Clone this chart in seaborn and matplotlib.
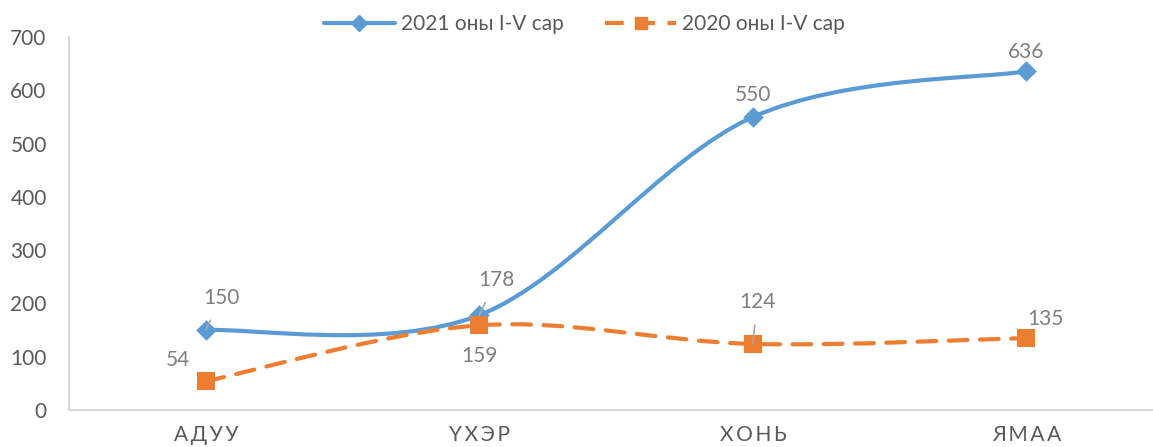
import numpy as np
import pandas as pd
import matplotlib.pyplot as plt
from matplotlib.path import Path
from matplotlib.patches import PathPatch
from matplotlib.lines import Line2D
import seaborn as sns

sns.set_theme(style="white")
plt.rcParams['font.family'] = ['Lato', 'Open Sans', 'DejaVu Sans']

# data
categories = ['АДУУ', 'ҮХЭР', 'ХОНЬ', 'ЯМАА']
vals_2021 = [150, 178, 550, 636]
vals_2020 = [54, 159, 124, 135]
name_2021 = '2021 оны I-V сар'
name_2020 = '2020 оны I-V сар'

blue = '#5B9BD5'
orange = '#ED7D31'
txt = '#595959'
lbl = '#7F7F7F'


def smooth_path(y):
    # Excel-style smoothed line: cubic bezier segments (Catmull-Rom control points)
    pts = np.column_stack([np.arange(len(y)), np.asarray(y, dtype=float)])
    verts = [tuple(pts[0])]
    codes = [Path.MOVETO]
    n = len(pts)
    for i in range(n - 1):
        p_prev = pts[max(i - 1, 0)]
        p0, p1 = pts[i], pts[i + 1]
        p_next = pts[min(i + 2, n - 1)]
        c1 = p0 + (p1 - p_prev) / 6
        c2 = p1 - (p_next - p0) / 6
        verts += [tuple(c1), tuple(c2), tuple(p1)]
        codes += [Path.CURVE4] * 3
    return Path(verts, codes)


fig = plt.figure(figsize=(11.53, 4.47), dpi=100)
ax = fig.add_axes([0.0598, 0.0828, 0.949, 0.834])

ax.add_patch(PathPatch(smooth_path(vals_2021), fill=False, edgecolor=blue,
                       lw=3, capstyle='round', zorder=2))
ax.add_patch(PathPatch(smooth_path(vals_2020), fill=False, edgecolor=orange,
                       lw=3, linestyle=(0, (4.5, 3)), capstyle='round', zorder=2))

df = pd.DataFrame({'x': range(len(categories)), 'y21': vals_2021, 'y20': vals_2020})
sns.scatterplot(data=df, x='x', y='y21', marker='D', s=110, color=blue,
                edgecolor=blue, linewidth=0, ax=ax, zorder=3)
sns.scatterplot(data=df, x='x', y='y20', marker='s', s=160, color=orange,
                edgecolor=orange, linewidth=0, ax=ax, zorder=3)

ax.set_xlim(-0.5, 3.5)
ax.set_ylim(0, 700)
ax.set_yticks(range(0, 701, 100))
ax.set_xticks(range(len(categories)))
ax.set_xticklabels(['\u2009'.join(c) for c in categories])
ax.set_xlabel('')
ax.set_ylabel('')
ax.tick_params(axis='y', labelsize=15, labelcolor=txt, length=0, pad=16)
ax.tick_params(axis='x', labelsize=15, labelcolor=txt, length=0, pad=11)

for side in ['top', 'right']:
    ax.spines[side].set_visible(False)
for side in ['left', 'bottom']:
    ax.spines[side].set_color('#D9D9D9')
    ax.spines[side].set_linewidth(1.5)

# data labels (offsets in points), with leader lines where Excel drew them
labels_2021 = [(150, (11, 23), True), (178, (12, 25), True), (550, (0, 16), False), (636, (0, 14), False)]
labels_2020 = [(54, (-20, 15), False), (159, (0, -22), False), (124, (3, 30), True), (135, (14, 14), False)]
for series in [labels_2021, labels_2020]:
    for i, (v, off, leader) in enumerate(series):
        ax.annotate(str(v), xy=(i, v), xytext=off, textcoords='offset points',
                    ha='center', va='center', fontsize=15, color=lbl,
                    arrowprops=dict(arrowstyle='-', color='#A6A6A6', lw=1.2,
                                    shrinkA=7, shrinkB=0) if leader else None)

handles = [
    Line2D([0], [0], color=blue, lw=3, marker='D', markersize=8),
    Line2D([0], [0], color=orange, lw=3, linestyle=(0, (4.5, 3)), marker='s', markersize=9),
]
fig.legend(handles, [name_2021, name_2020], loc='center', bbox_to_anchor=(0.507, 0.946),
           ncol=2, frameon=False, fontsize=15, labelcolor=txt, handlelength=3.4,
           columnspacing=2.0, handletextpad=0.3)

fig.savefig('out.png', dpi=100)
